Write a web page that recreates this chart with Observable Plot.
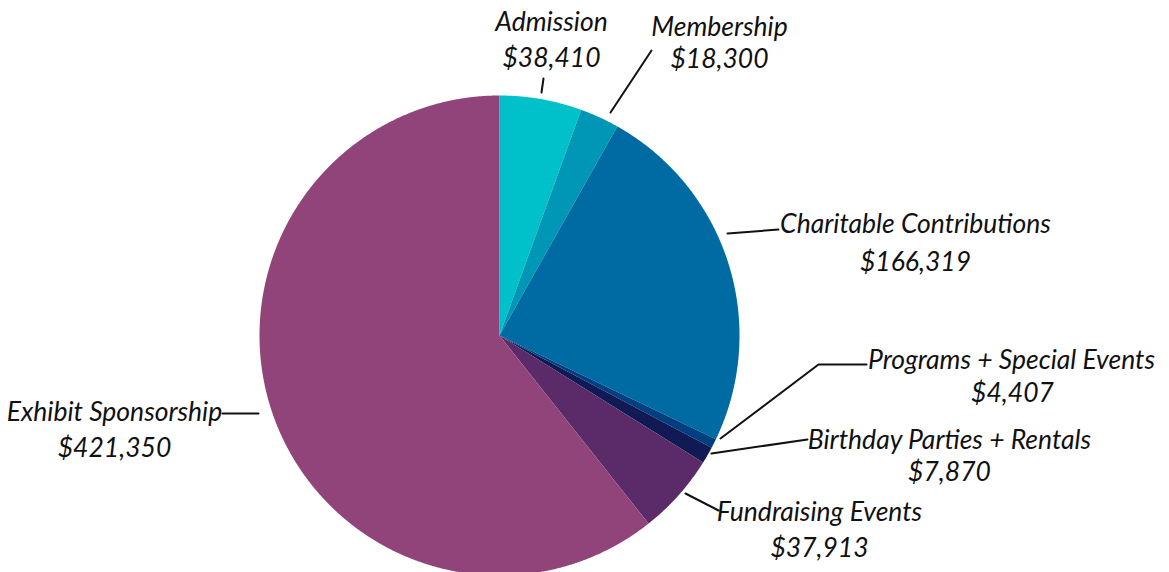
<!DOCTYPE html>
<html>
<head>
<meta charset="utf-8">
<script src="https://cdn.jsdelivr.net/npm/d3@7"></script>
<script src="https://cdn.jsdelivr.net/npm/@observablehq/plot@0.6"></script>
<style>
  html, body { margin: 0; padding: 0; background: #fff; }
  #chart svg { display: block; }
</style>
</head>
<body>
<div id="chart"></div>
<script>
// ---- data ----
const categories = ["Admission", "Membership", "Charitable Contributions", "Programs + Special Events", "Birthday Parties + Rentals", "Fundraising Events", "Exhibit Sponsorship"];
const values = [38410, 18300, 166319, 4407, 7870, 37913, 421350];
const valueLabels = ["$38,410", "$18,300", "$166,319", "$4,407", "$7,870", "$37,913", "$421,350"];
const colors = ["#00c0c9", "#0097b6", "#006aa2", "#003f80", "#121a55", "#5a2a69", "#914479"];

// ---- layout (pixels of the 1169x572 frame) ----
const W = 1169, H = 572;
const CX = 499, CY = 335, R = 240;
// label centres: [nameX, nameY, valueX, valueY]
const labelPos = [
  [551, 22, 551, 58],
  [719, 27, 719, 59],
  [915, 224, 915, 262],
  [1011, 360, 1012, 393],
  [949, 440, 949, 472],
  [819, 512, 819, 548],
  [114, 412, 114, 448]
];
const leaderPts = [
  [[543, 78], [541, 92]],
  [[651, 50], [610, 112]],
  [[727, 233], [778, 229]],
  [[720, 438], [818, 364], [866, 364]],
  [[711, 453], [807, 439]],
  [[685, 493], [718, 510]],
  [[222, 413], [258, 413]]
];

// ---- build geometry from data ----
const arcs = d3.pie().sort(null)(values);
const slicePts = [];
arcs.forEach((a, i) => {
  const name = categories[i];
  slicePts.push({name, x: 0, y: 0});
  const n = Math.max(2, Math.ceil((a.endAngle - a.startAngle) / 0.005));
  for (let k = 0; k <= n; k++) {
    const t = a.startAngle + (a.endAngle - a.startAngle) * k / n;
    slicePts.push({name, x: R * Math.sin(t), y: R * Math.cos(t)});
  }
  slicePts.push({name, x: 0, y: 0});
});
const toX = px => px - CX;
const toY = py => CY - py;
const labels = categories.map((c, i) => ({
  name: c, value: valueLabels[i],
  nx: toX(labelPos[i][0]), ny: toY(labelPos[i][1]),
  vx: toX(labelPos[i][2]), vy: toY(labelPos[i][3])
}));
const leaders = [];
leaderPts.forEach((pts, i) => pts.forEach(p => leaders.push({name: categories[i], x: toX(p[0]), y: toY(p[1])})));

const font = "Lato";
const fs = 26.5;
const chart = Plot.plot({
  width: W, height: H,
  margin: 0,
  x: {domain: [-CX, W - CX], axis: null},
  y: {domain: [CY - H, CY], axis: null},
  color: {domain: categories, range: colors},
  style: {background: "#fff"},
  marks: [
    Plot.line(slicePts, {x: "x", y: "y", z: "name", fill: "name", stroke: "none", curve: "linear-closed"}),
    Plot.line(leaders, {x: "x", y: "y", z: "name", stroke: "#111", strokeWidth: 2}),
    Plot.text(labels, {x: "nx", y: "ny", text: "name", fontSize: fs, fontStyle: "italic", fontFamily: font, fill: "#111", textAnchor: "middle", lineAnchor: "middle"}),
    Plot.text(labels, {x: "vx", y: "vy", text: "value", fontSize: fs, fontStyle: "italic", fontFamily: font, fill: "#111", textAnchor: "middle", lineAnchor: "middle"})
  ]
});
document.getElementById("chart").appendChild(chart);
</script>
</body>
</html>
